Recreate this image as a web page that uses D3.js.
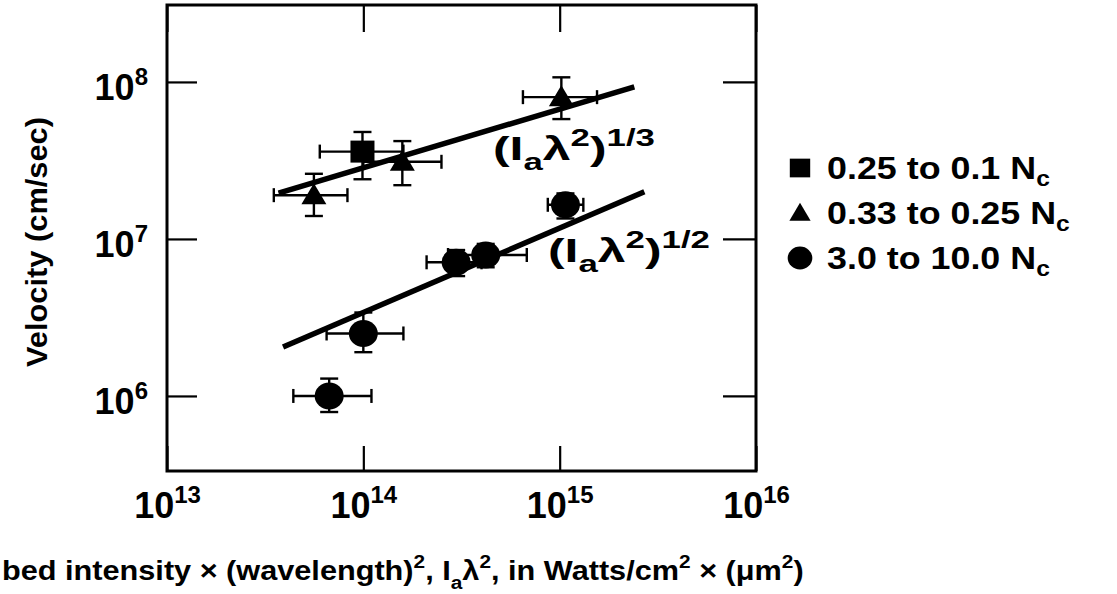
<!DOCTYPE html>
<html>
<head>
<meta charset="utf-8">
<script src="https://cdn.jsdelivr.net/npm/d3@7"></script>
<style>
  html, body { margin: 0; padding: 0; background: #fff; overflow: hidden; }
  svg { display: block; }
  text { font-family: "Liberation Sans", Arial, sans-serif; font-weight: bold; fill: #000; }
  .narrow { font-family: "Liberation Sans Narrow", "Liberation Sans", Arial, sans-serif; }
</style>
</head>
<body>
<svg id="chart" width="1117" height="594"></svg>
<script>
// ---------------- data ----------------
const xTicks = [1e13, 1e14, 1e15, 1e16];
const yTicks = [1e6, 1e7, 1e8];

// Square series: 0.25 to 0.1 Nc
const squareX = [9.9e13];
const squareY = [3.6e7];
const squareXErr = [[6.0e13, 1.6e14]];
const squareYErr = [[2.4e7, 4.8e7]];

// Triangle series: 0.33 to 0.25 Nc
const triangleX = [5.6e13, 1.58e14, 1.02e15];
const triangleY = [1.9e7, 3.1e7, 8.0e7];
const triangleXErr = [[3.5e13, 8.3e13], [1.0e14, 2.5e14], [6.5e14, 1.55e15]];
const triangleYErr = [[1.4e7, 2.6e7], [2.2e7, 4.2e7], [5.8e7, 1.07e8]];

// Circle series: 3.0 to 10.0 Nc
const circleX = [6.7e13, 1.0e14, 2.97e14, 4.2e14, 1.07e15];
const circleY = [1.0e6, 2.5e6, 7.1e6, 7.9e6, 1.65e7];
const circleXErr = [[4.4e13, 1.1e14], [6.5e13, 1.6e14], [2.1e14, 4.0e14], [2.7e14, 6.8e14], [8.7e14, 1.32e15]];
const circleYErr = [[7.9e5, 1.29e6], [1.9e6, 3.4e6], [5.8e6, 8.5e6], [6.6e6, 9.3e6], [1.35e7, 1.95e7]];

// Fitted power-law lines
const fitThirdX = [3.7e13, 2.4e15];
const fitThirdY = [1.96e7, 9.3e7];
const fitHalfX = [3.9e13, 2.7e15];
const fitHalfY = [2.05e6, 2.0e7];

const legendLabels = ["0.25 to 0.1 N", "0.33 to 0.25 N", "3.0 to 10.0 N"];
const legendShapes = ["square", "triangle", "circle"];

// ---------------- layout ----------------
const L = 167, R = 756, T = 5, B = 471;
const svg = d3.select("#chart");

const x = d3.scaleLog().domain([1e13, 1e16]).range([L, R]);
const y = d3.scaleLog().domain([Math.pow(10, 5.522), Math.pow(10, 8.49)]).range([B, T]);

// frame
svg.append("rect").attr("x", L).attr("y", T).attr("width", R - L).attr("height", B - T)
  .attr("fill", "none").attr("stroke", "#000").attr("stroke-width", 3);

function styleAxis(g) {
  g.select(".domain").remove();
  g.selectAll(".tick line").attr("stroke", "#000").attr("stroke-width", 2.2);
}

function powerLabel(t, d) {
  t.append("tspan").text("10");
  t.append("tspan").attr("font-size", 24).attr("dy", -15).text(Math.round(Math.log10(d)));
}

// bottom axis
const gx = svg.append("g").attr("transform", `translate(0,${B})`)
  .call(d3.axisBottom(x).tickValues(xTicks).tickSizeInner(-25).tickSizeOuter(0).tickPadding(0));
styleAxis(gx);
gx.selectAll(".tick text").text(null).attr("y", 47).attr("dy", null)
  .attr("font-size", 36).attr("text-anchor", "middle")
  .each(function (d) { powerLabel(d3.select(this), d); });

// top axis ticks
const gxt = svg.append("g").attr("transform", `translate(0,${T})`)
  .call(d3.axisTop(x).tickValues(xTicks).tickSizeInner(-27).tickSizeOuter(0).tickFormat(() => ""));
styleAxis(gxt);

// left axis
const gy = svg.append("g").attr("transform", `translate(${L},0)`)
  .call(d3.axisLeft(y).tickValues(yTicks).tickSizeInner(-30).tickSizeOuter(0).tickPadding(0));
styleAxis(gy);
gy.selectAll(".tick text").text(null).attr("x", -19).attr("dy", null).attr("y", 18)
  .attr("font-size", 36).attr("text-anchor", "end")
  .each(function (d) { powerLabel(d3.select(this), d); });

// right axis ticks
const gyr = svg.append("g").attr("transform", `translate(${R},0)`)
  .call(d3.axisRight(y).tickValues(yTicks).tickSizeInner(-33).tickSizeOuter(0).tickFormat(() => ""));
styleAxis(gyr);

// fit lines
const line = d3.line().x(d => x(d[0])).y(d => y(d[1]));
svg.append("path").datum(d3.zip(fitThirdX, fitThirdY)).attr("d", line)
  .attr("stroke", "#000").attr("stroke-width", 5.5).attr("fill", "none");
svg.append("path").datum(d3.zip(fitHalfX, fitHalfY)).attr("d", line)
  .attr("stroke", "#000").attr("stroke-width", 5.5).attr("fill", "none");

// error bars
function errorBars(xs, ys, xe, ye) {
  const g = svg.append("g").attr("stroke", "#000").attr("stroke-width", 2.4).attr("fill", "none");
  xs.forEach((xv, i) => {
    const cx = x(xv), cy = y(ys[i]);
    const x0 = x(xe[i][0]), x1 = x(xe[i][1]);
    const y0 = y(ye[i][0]), y1 = y(ye[i][1]);
    g.append("line").attr("x1", x0).attr("x2", x1).attr("y1", cy).attr("y2", cy);
    g.append("line").attr("x1", x0).attr("x2", x0).attr("y1", cy - 7).attr("y2", cy + 7);
    g.append("line").attr("x1", x1).attr("x2", x1).attr("y1", cy - 7).attr("y2", cy + 7);
    g.append("line").attr("x1", cx).attr("x2", cx).attr("y1", y0).attr("y2", y1);
    g.append("line").attr("x1", cx - 9).attr("x2", cx + 9).attr("y1", y0).attr("y2", y0);
    g.append("line").attr("x1", cx - 9).attr("x2", cx + 9).attr("y1", y1).attr("y2", y1);
  });
}
errorBars(squareX, squareY, squareXErr, squareYErr);
errorBars(triangleX, triangleY, triangleXErr, triangleYErr);
errorBars(circleX, circleY, circleXErr, circleYErr);

// marker shapes
function drawShape(g, shape, cx, cy, s) {
  if (shape === "square") {
    g.append("rect").attr("x", cx - 12 * s).attr("y", cy - 11 * s)
      .attr("width", 24 * s).attr("height", 22 * s).attr("fill", "#000");
  } else if (shape === "triangle") {
    g.append("path").attr("d",
      `M${cx},${cy - 12 * s}L${cx + 12.5 * s},${cy + 9 * s}L${cx - 12.5 * s},${cy + 9 * s}Z`)
      .attr("fill", "#000");
  } else {
    g.append("ellipse").attr("cx", cx).attr("cy", cy).attr("rx", 14.5 * s).attr("ry", 13.5 * s)
      .attr("fill", "#000");
  }
}
const mg = svg.append("g");
squareX.forEach((v, i) => drawShape(mg, "square", x(v), y(squareY[i]), 1));
triangleX.forEach((v, i) => drawShape(mg, "triangle", x(v), y(triangleY[i]), 1));
circleX.forEach((v, i) => drawShape(mg, "circle", x(v), y(circleY[i]), 1));

// fit labels (scaled horizontally to the reference's width)
function fitLabel(px, py, exp, width) {
  const t = svg.append("text").attr("font-size", 33);
  t.append("tspan").text("(I");
  t.append("tspan").attr("font-size", 23).attr("dy", 10).text("a");
  t.append("tspan").attr("dy", -10).text("\u03BB");
  t.append("tspan").attr("font-size", 23).attr("dy", -14).text("2");
  t.append("tspan").attr("dy", 14).text(")");
  t.append("tspan").attr("font-size", 23).attr("dy", -14).text(exp);
  const w = t.node().getComputedTextLength();
  t.attr("transform", `translate(${px},${py}) scale(${width / w},1)`);
}
fitLabel(493, 160, "1/3", 162);
fitLabel(548, 262, "1/2", 162);

// legend
const legendY = d3.scalePoint().domain(legendLabels).range([168, 258]);
const lg = svg.append("g");
legendLabels.forEach((lab, i) => {
  const cy = legendY(lab);
  drawShape(lg, legendShapes[i], 800, cy, 0.85);
  const t = lg.append("text").attr("font-size", 32)
    .attr("transform", `translate(827,${cy + 11}) scale(1.12,1)`);
  t.append("tspan").text(lab);
  t.append("tspan").attr("font-size", 22).attr("dy", 7).text("c");
});

// y axis title
svg.append("text").attr("class", "narrow")
  .attr("transform", "translate(47,242) rotate(-90)")
  .attr("text-anchor", "middle").attr("font-size", 29)
  .attr("textLength", 250).attr("lengthAdjust", "spacingAndGlyphs")
  .text("Velocity (cm/sec)");

// x axis title (as visible in the reference, starting at the left edge)
const xt = svg.append("text").attr("class", "narrow").attr("font-size", 28);
const parts = [
  ["bed intensity \u00D7 (wavelength)", 0, 28],
  ["2", -12, 19],
  [", I", 12, 28],
  ["a", 9, 19],
  ["\u03BB", -9, 28],
  ["2", -12, 19],
  [", in Watts/cm", 12, 28],
  ["2", -12, 19],
  [" \u00D7 (\u03BCm", 12, 28],
  ["2", -12, 19],
  [")", 12, 28]
];
parts.forEach(p => xt.append("tspan").attr("dy", p[1]).attr("font-size", p[2]).text(p[0]));
const totalW = xt.node().getComputedTextLength();
const sc = 802 / totalW;
xt.attr("transform", `translate(2,580) scale(${sc},1)`);
</script>
</body>
</html>
